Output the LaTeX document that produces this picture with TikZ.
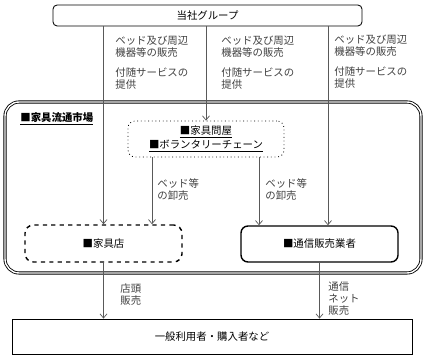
\documentclass[tikz,border=0pt]{standalone}
\usepackage{fontspec}
\setmainfont{Noto Sans CJK JP}
\usetikzlibrary{arrows.meta,calc}
\begin{document}
\begin{tikzpicture}[x=0.025cm,y=-0.025cm,line width=0.6pt,
  font=\fontsize{7.4}{8.5}\selectfont,
  box/.style={draw,rounded corners=3pt,inner sep=0pt,align=center},
  conn/.style={draw=black!65,line width=0.5pt,-{Straight Barb[length=3pt,width=5pt]}},
  lbl/.style={anchor=north west,inner sep=0pt,align=left,text=black!75}]
\useasboundingbox (0,0) rectangle (427,359);
\draw[double,double distance=1pt,rounded corners=10pt] (5,102) rectangle (421,273);
\node[anchor=west,inner sep=0pt] (market) at (20,119) {\underline{\bfseries ■家具流通市場}};
\node[box,minimum width=7.725cm,minimum height=0.525cm] (group) at (207.5,15.5) {当社グループ};
\node[box,dotted,rounded corners=5pt,minimum width=3.9cm,minimum height=0.9cm] (ws) at (206,139)
  {\underline{■家具問屋}\\\underline{■ボランタリーチェーン}};
\node[box,dashed,line width=1pt,rounded corners=6pt,minimum width=3.925cm,minimum height=0.925cm] (shop) at (103.5,243.5) {■家具店};
\node[box,line width=1pt,rounded corners=5pt,minimum width=3.925cm,minimum height=0.9cm] (mail) at (319.5,244) {■通信販売業者};
\node[box,sharp corners,minimum width=10cm,minimum height=0.875cm] (user) at (212,336.5) {一般利用者・購入者など};
\coordinate (g3) at ($(group.south)+(120.5,0)$);
\coordinate (w1) at ($(ws.south)+(-54,0)$);
\coordinate (w2) at ($(ws.south)+(53,0)$);
\draw[conn] (shop.north |- group.south) -- (shop.north);
\draw[conn] (ws.north |- group.south) -- (ws.north);
\draw[conn] (g3) -- (g3 |- mail.north);
\draw[conn] (w1) -- (w1 |- shop.north);
\draw[conn] (w2) -- (w2 |- mail.north);
\draw[conn] (shop.south) -- (shop.south |- user.north);
\draw[conn] (mail.south) -- (mail.south |- user.north);
\node[lbl] (s1) at (115,36) {ベッド及び周辺\\機器等の販売};
\node[lbl] (v1) at (115,67) {付随サービスの\\提供};
\node[lbl] (s2) at (221,36) {ベッド及び周辺\\機器等の販売};
\node[lbl] (v2) at (221,67) {付随サービスの\\提供};
\node[lbl] (s3) at (334,35) {ベッド及び周辺\\機器等の販売};
\node[lbl] (v3) at (334,66) {付随サービスの\\提供};
\node[lbl] (b1) at (157,178) {ベッド等\\の卸売};
\node[lbl] (b2) at (265,178) {ベッド等\\の卸売};
\node[lbl] (r1) at (120,283) {店頭\\販売};
\node[lbl] (r2) at (328,281) {通信\\ネット\\販売};
\end{tikzpicture}
\end{document}
